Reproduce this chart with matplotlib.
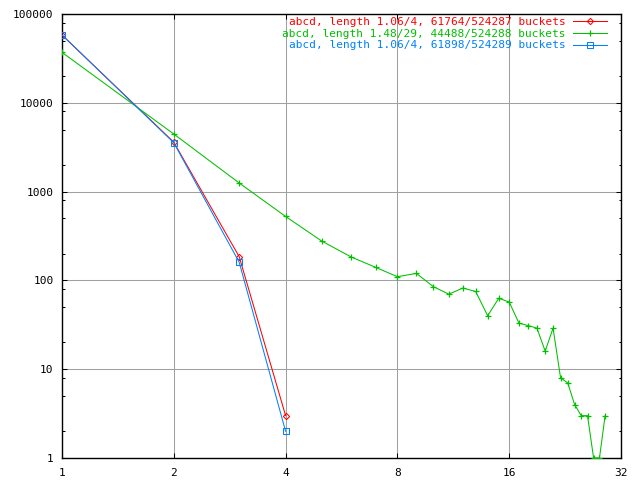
import numpy as np
import matplotlib
matplotlib.use("Agg")
import matplotlib.pyplot as plt
from matplotlib.ticker import FixedLocator, NullFormatter

# bucket length vs number of buckets
len_red = [1, 2, 3, 4]
cnt_red = [57976, 3600, 185, 3]

len_green = list(range(1, 30))
cnt_green = [37000, 4450, 1250, 525, 278, 184, 140, 110, 120, 85,
             70, 82, 75, 40, 63, 57, 33, 31, 29, 16,
             29, 8, 7, 4, 3, 3, 1, 1, 3]

len_blue = [1, 2, 3, 4]
cnt_blue = [58186, 3550, 160, 2]

labels = ["abcd, length 1.06/4, 61764/524287 buckets",
          "abcd, length 1.48/29, 44488/524288 buckets",
          "abcd, length 1.06/4, 61898/524289 buckets"]

x_ticks = [1, 2, 4, 8, 16, 32]
y_ticks = [1, 10, 100, 1000, 10000, 100000]

plt.rcParams['font.family'] = 'DejaVu Sans Mono'
plt.rcParams['font.size'] = 8

fig = plt.figure(figsize=(6.4, 4.8), dpi=100)
ax = fig.add_axes([62 / 640, 22 / 480, 559 / 640, 444 / 480])

ax.plot(len_red, cnt_red, color='#ff0000', lw=0.75, marker='D', ms=3.2,
        mfc='none', mew=0.75, label=labels[0], zorder=3)
ax.plot(len_green, cnt_green, color='#00c000', lw=0.75, marker='+', ms=4.6,
        mew=0.9, label=labels[1], zorder=3)
ax.plot(len_blue, cnt_blue, color='#0080ff', lw=0.75, marker='s', ms=4.2,
        mfc='none', mew=0.75, label=labels[2], zorder=4)

ax.set_xscale('log', base=2)
ax.set_yscale('log', base=10)
ax.set_xlim(1, 32)
ax.set_ylim(1, 100000)

ax.xaxis.set_major_locator(FixedLocator(x_ticks))
ax.set_xticklabels([str(v) for v in x_ticks])
ax.xaxis.set_minor_locator(FixedLocator([]))
ax.yaxis.set_major_locator(FixedLocator(y_ticks))
ax.set_yticklabels([str(v) for v in y_ticks])
minor_y = [m * d for d in [1, 10, 100, 1000, 10000] for m in (2, 5, 8)]
ax.yaxis.set_minor_locator(FixedLocator(minor_y))
ax.yaxis.set_minor_formatter(NullFormatter())

ax.tick_params(which='both', direction='in', top=True, right=True,
               width=0.75, colors='black')
ax.tick_params(which='major', length=3.6, pad=6)
ax.tick_params(which='minor', length=1.8)
ax.tick_params(axis='x', which='major', pad=7)

ax.grid(True, which='major', color='#a0a0a0', lw=0.75, zorder=1)
for sp in ax.spines.values():
    sp.set_linewidth(1.0)

ax.legend(loc='upper right', bbox_to_anchor=(0.975, 0.993), frameon=False,
          markerfirst=False, handlelength=3.05, handletextpad=0.7,
          labelspacing=0.15, borderaxespad=0.0, borderpad=0.0,
          fontsize=8, labelcolor='linecolor')

fig.savefig('out.png', dpi=100)
